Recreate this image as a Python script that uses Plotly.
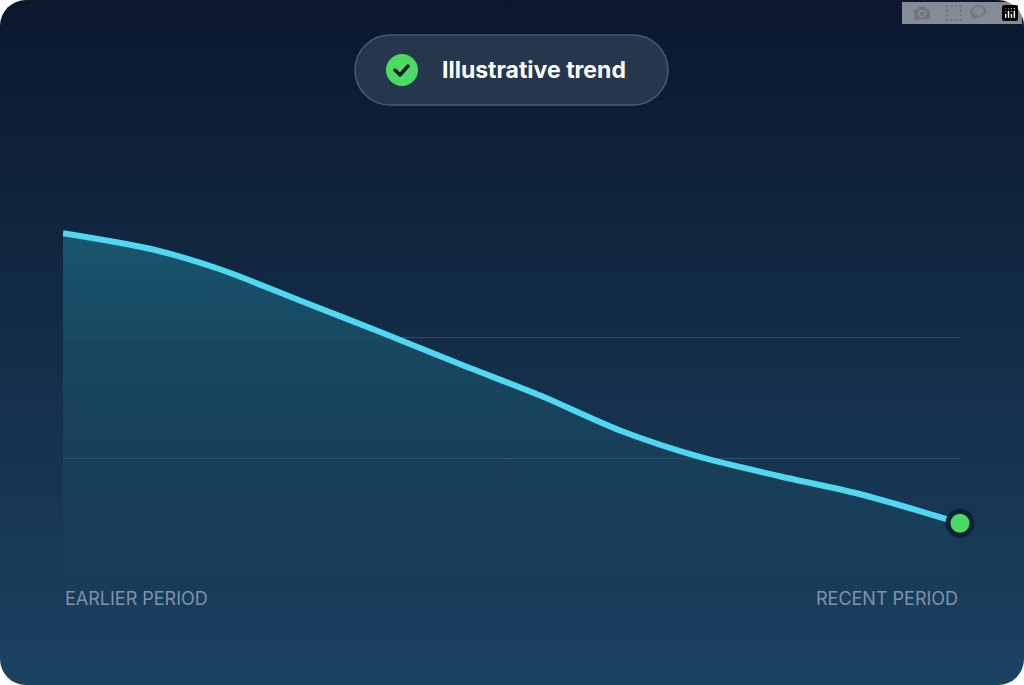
import base64
import plotly.graph_objects as go

W, H = 1024, 685
L, R, T, B = 63, 64, 217, 106

# trend values (x as % of period)
x_pos = [0, 9.7, 17.5, 26.4, 35.3, 44.3, 53.2, 62.1, 71.0, 79.9, 88.9, 100]
y_val = [2.87, 2.74, 2.57, 2.31, 2.05, 1.78, 1.52, 1.23, 1.01, 0.85, 0.70, 0.46]
grid_vals = [0, 1, 2, 3]
badge_text = "Illustrative trend"
x_labels = ["EARLIER PERIOD", "RECENT PERIOD"]

pw, ph = W - L - R, H - T - B

# background card with gradient + badge pill (decoration)
svg = f'''<svg xmlns="http://www.w3.org/2000/svg" width="{W}" height="{H}" viewBox="0 0 {W} {H}">
<defs><linearGradient id="g" x1="0" y1="0" x2="0" y2="1">
<stop offset="0" stop-color="#0b172d"/><stop offset="1" stop-color="#1b4262"/></linearGradient></defs>
<rect x="0" y="0" width="{W}" height="{H}" rx="26" ry="26" fill="url(#g)"/>
<rect x="355" y="35" width="313" height="70" rx="35" ry="35" fill="#26364d" stroke="#4a5a70" stroke-width="1.5"/>
<circle cx="402" cy="70" r="16" fill="#4cd964"/>
<path d="M395 70 l5 5 l8 -9" stroke="#0b1a2a" stroke-width="3.5" fill="none" stroke-linecap="round" stroke-linejoin="round"/>
</svg>'''
src = "data:image/svg+xml;base64," + base64.b64encode(svg.encode()).decode()

fig = go.Figure()
fig.add_trace(go.Scatter(
    x=x_pos, y=y_val, mode="lines", line=dict(color="#4fd8f0", width=6, shape="spline", smoothing=0.8),
    fill="tozeroy",
    fillgradient=dict(type="vertical", colorscale=[[0, "rgba(27,70,95,0.2)"], [1, "rgba(26,95,120,0.85)"]]),
    hoverinfo="skip", showlegend=False))
fig.add_trace(go.Scatter(
    x=[x_pos[-1]], y=[y_val[-1]], mode="markers", cliponaxis=False,
    marker=dict(size=24, color="#4cd964", line=dict(color="#0d2236", width=5)),
    hoverinfo="skip", showlegend=False))

fig.add_layout_image(dict(source=src, xref="paper", yref="paper", x=-L / pw, y=1 + T / ph,
                          sizex=W / pw, sizey=H / ph, sizing="stretch", xanchor="left", yanchor="top",
                          layer="below"))

fig.add_annotation(text=badge_text, x=(440 - L) / pw, y=1 + (T - 70) / ph, xref="paper", yref="paper",
                   xanchor="left", yanchor="middle", showarrow=False,
                   font=dict(family="Inter", size=23, color="white", weight="bold"))
for lbl, xp, anc in zip(x_labels, [0, 1], ["left", "right"]):
    fig.add_annotation(text=lbl, x=xp, y=-19 / ph, xref="paper", yref="paper", xanchor=anc,
                       yanchor="middle", showarrow=False,
                       font=dict(family="Inter", size=18, color="#7f93a8"))

fig.update_layout(
    width=W, height=H, margin=dict(l=L, r=R, t=T, b=B),
    paper_bgcolor="white", plot_bgcolor="rgba(0,0,0,0)",
    xaxis=dict(range=[0, 100], showgrid=False, zeroline=False, showticklabels=False, fixedrange=True),
    yaxis=dict(range=[-0.004, 3.004], tickvals=grid_vals, showticklabels=False, zeroline=False,
               gridcolor="rgba(255,255,255,0.14)", gridwidth=1, fixedrange=True),
)
fig.write_html("out.html", post_script="document.body.style.margin='0';")
